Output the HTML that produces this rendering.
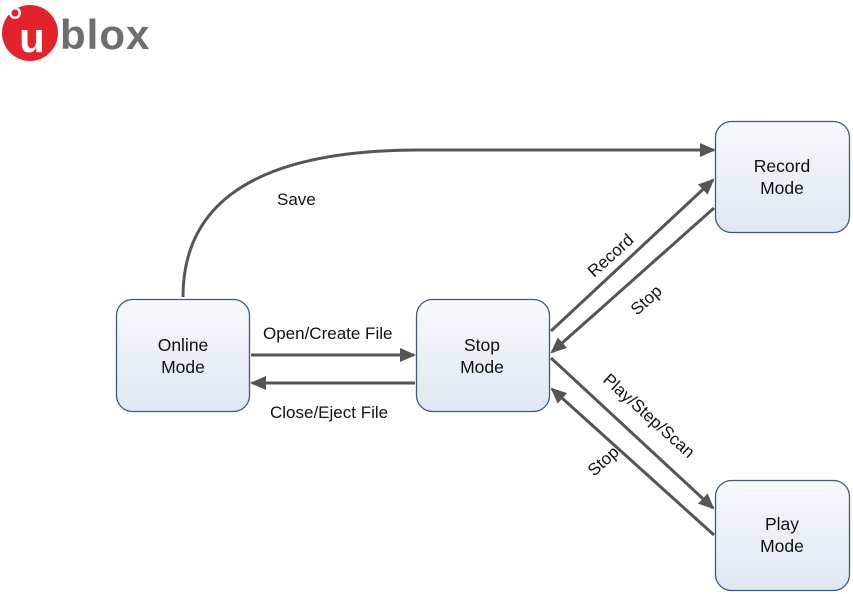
<!DOCTYPE html>
<html><head><meta charset="utf-8"><style>
body{margin:0;background:#fff;width:853px;height:594px;overflow:hidden}
svg{display:block}
text{font-family:"Liberation Sans",sans-serif;fill:#111}
</style></head><body>
<svg width="853" height="594" viewBox="0 0 853 594" xmlns="http://www.w3.org/2000/svg">
<defs>
<linearGradient id="g" x1="0" y1="0" x2="0" y2="1"><stop offset="0" stop-color="#f8fafd"/><stop offset="1" stop-color="#dfe7f2"/></linearGradient>
<marker id="b" markerWidth="16" markerHeight="16" refX="14" refY="8" orient="auto" markerUnits="userSpaceOnUse"><path d="M0,1 L16,8 L0,15 z" fill="#555"/></marker>
</defs>
<!-- logo -->
<circle cx="30" cy="33" r="28" fill="#e3222b"/>
<circle cx="15" cy="13" r="6" fill="#fff"/>
<circle cx="15" cy="13" r="3.5" fill="#e3222b"/>
<text x="32" y="52" font-size="42" font-weight="bold" style="fill:#fff" text-anchor="middle">u</text>
<text x="60" y="49" font-size="42" font-weight="bold" letter-spacing="1" style="fill:#6d6e70">blox</text>
<!-- nodes -->
<g fill="url(#g)" stroke="#3d5a85" stroke-width="1.3">
<rect x="116.5" y="299.5" width="133" height="112" rx="16"/>
<rect x="416.5" y="299.5" width="133" height="112" rx="16"/>
<rect x="715.5" y="121.5" width="134" height="111" rx="16"/>
<rect x="715.5" y="480.5" width="134" height="110" rx="16"/>
</g>
<g font-size="17.5" text-anchor="middle">
<text x="183" y="351">Online</text><text x="183" y="373">Mode</text>
<text x="482" y="351">Stop</text><text x="482" y="373">Mode</text>
<text x="782" y="172">Record</text><text x="782" y="194">Mode</text>
<text x="782" y="530">Play</text><text x="782" y="552">Mode</text>
</g>
<!-- connectors -->
<g stroke="#555" stroke-width="3" fill="none" marker-end="url(#b)">
<path d="M183,297 C183,200 260,150 420,150 L714,150"/>
<line x1="251" y1="355" x2="414" y2="355"/>
<line x1="415" y1="383" x2="252" y2="383"/>
<line x1="551" y1="331" x2="713" y2="180"/>
<line x1="714" y1="208" x2="552" y2="352"/>
<line x1="551" y1="358" x2="713" y2="508"/>
<line x1="714" y1="535" x2="552" y2="389"/>
</g>
<g font-size="17">
<text x="277" y="205">Save</text>
<text x="263" y="339">Open/Create File</text>
<text x="270" y="418">Close/Eject File</text>
<text transform="translate(594,278) rotate(-42)">Record</text>
<text transform="translate(637,316) rotate(-42)">Stop</text>
<text transform="translate(602,381) rotate(42)">Play/Step/Scan</text>
<text transform="translate(594,477) rotate(-42)">Stop</text>
</g>
</svg>
</body></html>
